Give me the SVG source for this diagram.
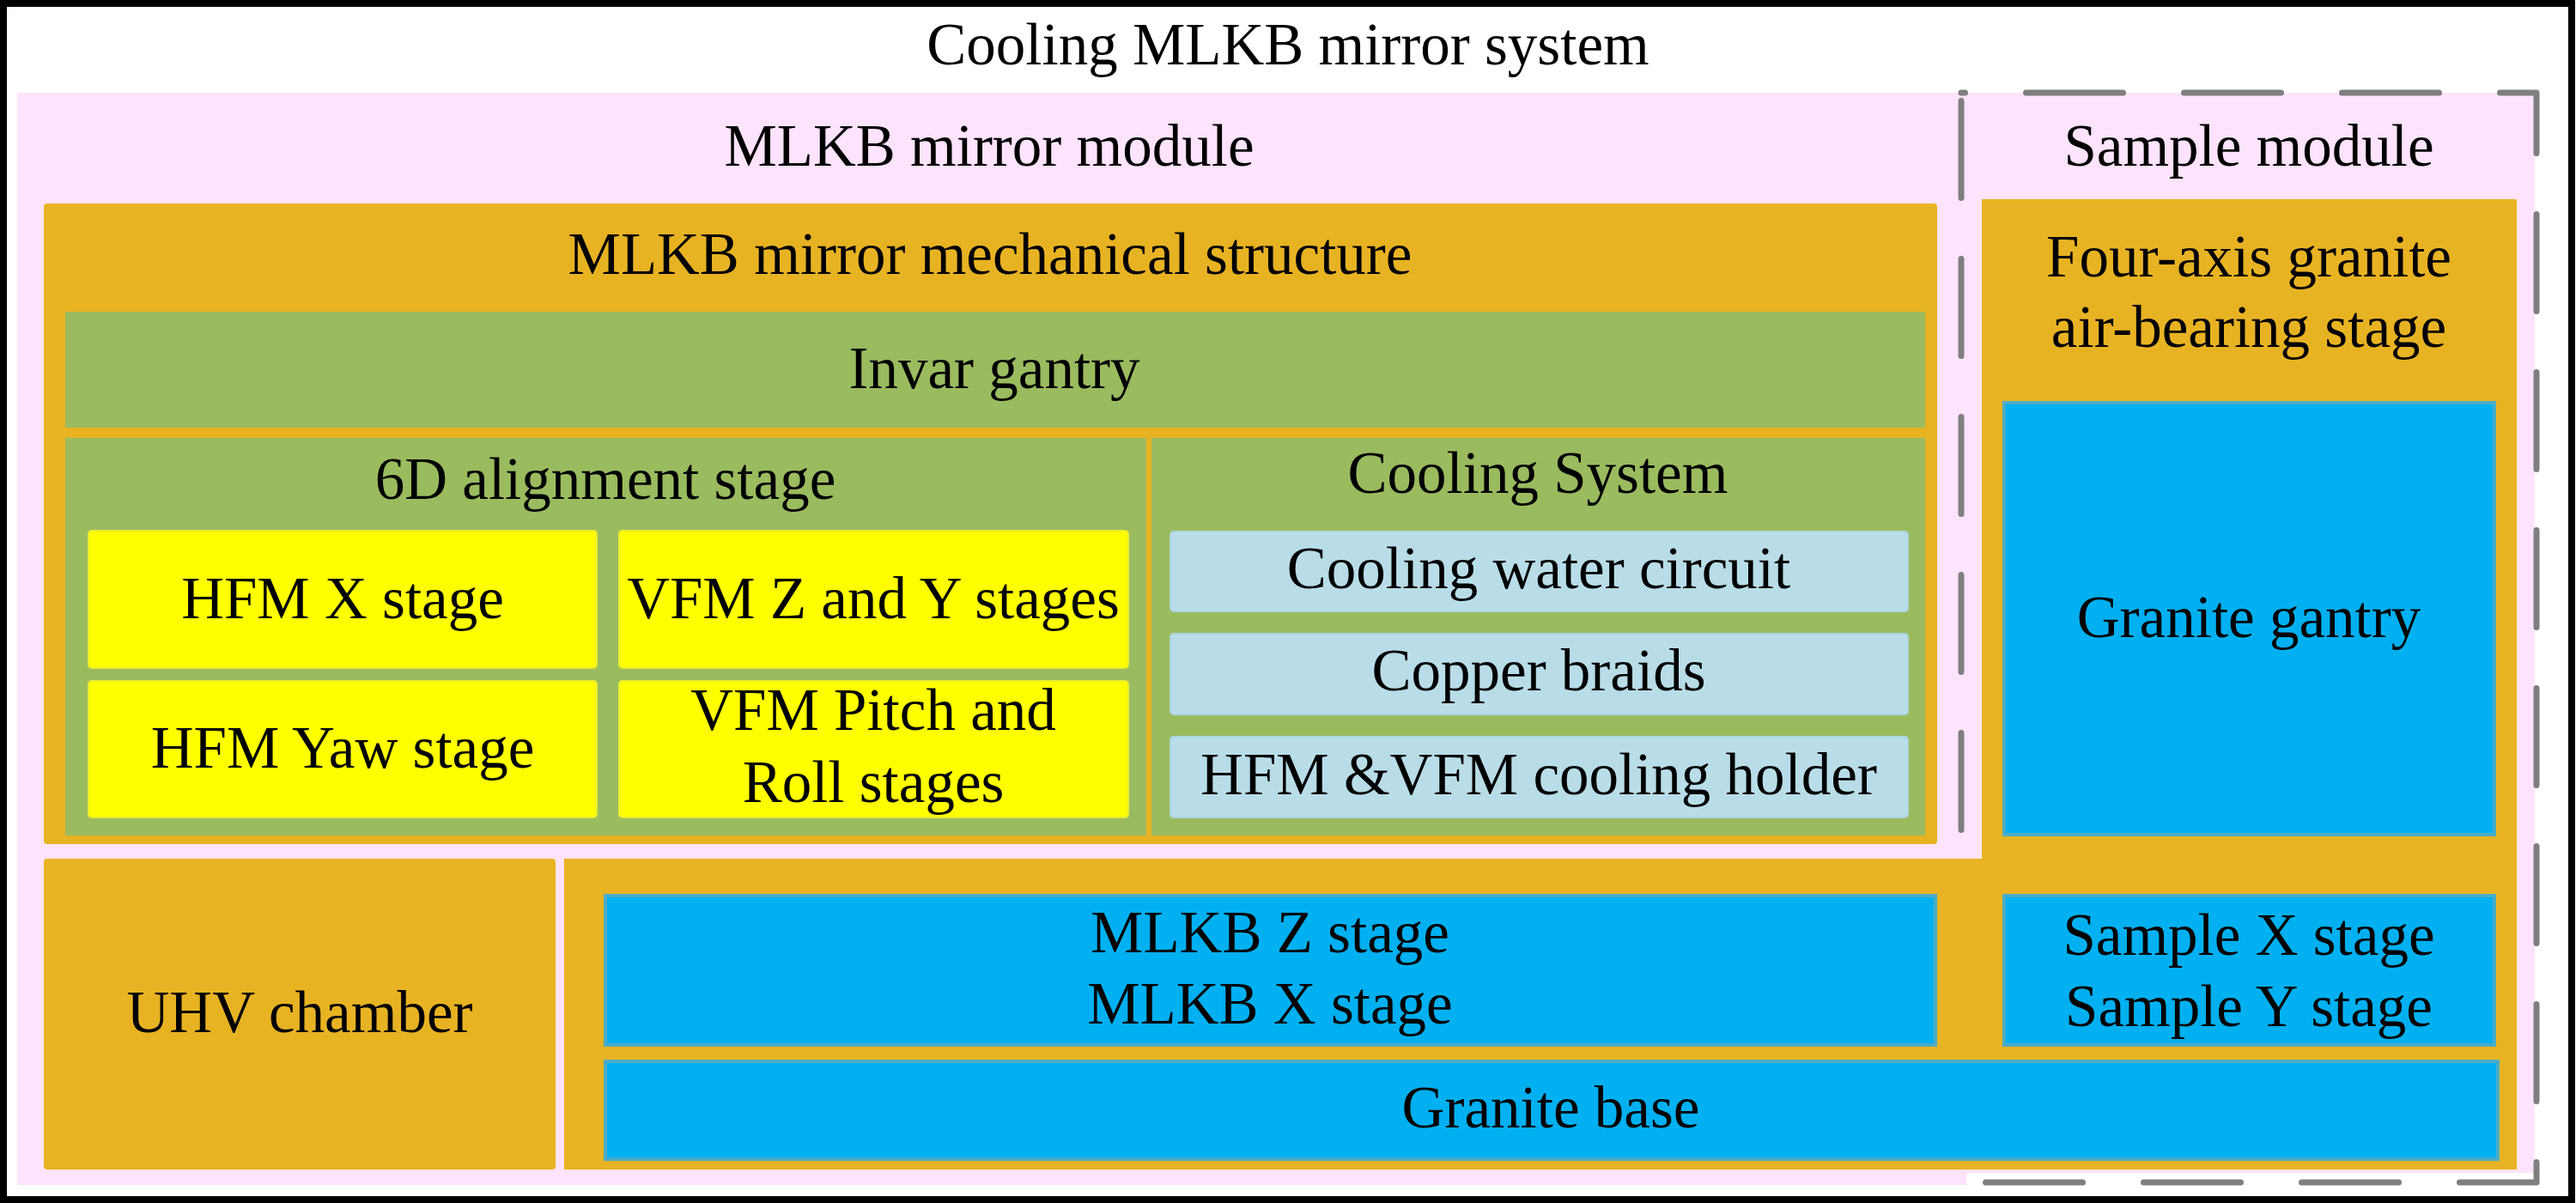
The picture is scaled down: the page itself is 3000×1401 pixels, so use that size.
<svg xmlns="http://www.w3.org/2000/svg" width="3000" height="1401" viewBox="0 0 3000 1401">
<style>
text{font-family:"Liberation Serif","Times New Roman",serif;font-size:69px;fill:#000;text-anchor:middle}
.pink{fill:#FDE3FC}
.orange{fill:#E8B323}
.green{fill:#9BBB5F}
.yellow{fill:#FFFF00;stroke:#E8EC30;stroke-width:2}
.lblue{fill:#B8DDE8;stroke:#ADD6E2;stroke-width:2}
.blue{fill:#00B0F0;stroke:#4BACC6;stroke-width:4}
.dash{fill:none;stroke:#7F7F7F;stroke-width:7;stroke-linecap:round;stroke-linejoin:round;stroke-dasharray:113 71;stroke-dashoffset:108.5}
</style>
<rect x="4" y="4" width="2991" height="1393" fill="#FFFFFF" stroke="#000000" stroke-width="8"/>
<g id="system">
<text x="1500" y="75">Cooling MLKB mirror system</text>
</g>
<g id="mlkb-mirror-module">
<rect class="pink" x="20" y="108" width="2270" height="1272"/>
<text x="1152" y="193">MLKB mirror module</text>
</g>
<g id="sample-module">
<rect class="pink" x="2288" y="108" width="664" height="1258"/>
<text x="2619" y="193">Sample module</text>
</g>
<g id="connectors">
<path class="dash" d="M2284,108 H2954 V1377 H2284 Z"/>
</g>
<g id="mechanical-structure">
<rect class="orange" x="51" y="237" width="2205" height="746" rx="4"/>
<text x="1153" y="319">MLKB mirror mechanical structure</text>
</g>
<g id="invar-gantry">
<rect class="green" x="76" y="363" width="2166" height="135"/>
<text x="1158" y="452">Invar gantry</text>
</g>
<g id="alignment-stage">
<rect class="green" x="76" y="510" width="1259" height="463"/>
<text x="705" y="581">6D alignment stage</text>
</g>
<g id="cooling-system">
<rect class="green" x="1341" y="510" width="901" height="463"/>
<text x="1791" y="574">Cooling System</text>
</g>
<g id="hfm-x">
<rect class="yellow" x="103" y="618" width="592" height="160" rx="4"/>
<text x="399" y="720">HFM X stage</text>
</g>
<g id="vfm-zy">
<rect class="yellow" x="721" y="618" width="593" height="160" rx="4"/>
<text x="1017" y="720">VFM Z and Y stages</text>
</g>
<g id="hfm-yaw">
<rect class="yellow" x="103" y="793" width="592" height="159" rx="4"/>
<text x="399" y="894">HFM Yaw stage</text>
</g>
<g id="vfm-pitch-roll">
<rect class="yellow" x="721" y="793" width="593" height="159" rx="4"/>
<text x="1017" y="850">VFM Pitch and</text>
<text x="1017" y="934">Roll stages</text>
</g>
<g id="cooling-water">
<rect class="lblue" x="1363" y="619" width="859" height="93" rx="4"/>
<text x="1792" y="685">Cooling water circuit</text>
</g>
<g id="copper-braids">
<rect class="lblue" x="1363" y="738" width="859" height="94" rx="4"/>
<text x="1792" y="804">Copper braids</text>
</g>
<g id="cooling-holder">
<rect class="lblue" x="1363" y="858" width="859" height="94" rx="4"/>
<text x="1792" y="925">HFM &amp;VFM cooling holder</text>
</g>
<g id="uhv-chamber">
<rect class="orange" x="51" y="1000" width="596" height="362" rx="4"/>
<text x="349" y="1202">UHV chamber</text>
</g>
<g id="four-axis-stage">
<path class="orange" d="M2308,232 H2931 V1362 H657 V1000 H2308 Z"/>
<text x="2619" y="322">Four-axis granite</text>
<text x="2619" y="404">air-bearing stage</text>
</g>
<g id="granite-gantry">
<rect class="blue" x="2334" y="469" width="571" height="503"/>
<text x="2619" y="742">Granite gantry</text>
</g>
<g id="mlkb-zx-stage">
<rect class="blue" x="705" y="1043" width="1549" height="174"/>
<text x="1479" y="1109">MLKB Z stage</text>
<text x="1479" y="1192">MLKB X stage</text>
</g>
<g id="sample-xy-stage">
<rect class="blue" x="2334" y="1043" width="571" height="174"/>
<text x="2619" y="1112">Sample X stage</text>
<text x="2619" y="1195">Sample Y stage</text>
</g>
<g id="granite-base">
<rect class="blue" x="705" y="1236" width="2204" height="114"/>
<text x="1806" y="1313">Granite base</text>
</g>
</svg>
